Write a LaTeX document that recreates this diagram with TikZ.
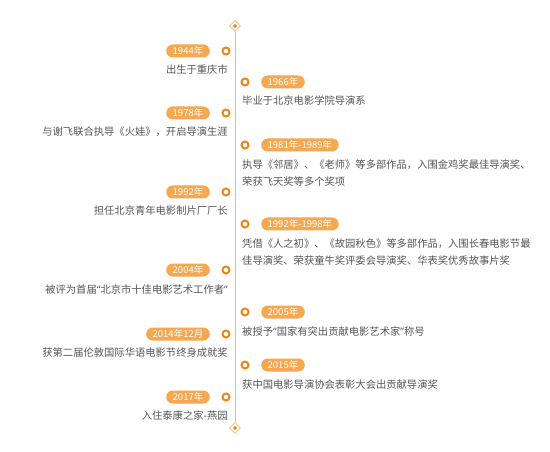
\documentclass[tikz,border=0pt]{standalone}
\usepackage{fontspec}
\setmainfont{Noto Sans CJK SC}
\newfontfamily\quotefont{Noto Sans}
\newcommand{\openq}{{\quotefont “}}
\newcommand{\closeq}{{\quotefont ”}}
\usepackage{tikz}
\usetikzlibrary{positioning,shapes.geometric}
\definecolor{TLorange}{HTML}{F08519}
\definecolor{TLpill}{HTML}{F5A84F}
\definecolor{TLline}{HTML}{F7B877}
\definecolor{TLtext}{HTML}{555555}

\begin{document}
\begin{tikzpicture}[
    x=1pt, y=-1pt,
    pill/.style={fill=TLpill, text=white, rounded corners=6.5pt, minimum height=13pt, inner xsep=6.5pt, inner ysep=0pt, font=\fontsize{9.5}{10}\selectfont},
    dot/.style={circle, draw=TLorange, line width=2pt, fill=white, minimum size=7pt, inner sep=0pt},
    desc/.style={text=TLtext, font=\fontsize{10.3}{16.5}\selectfont, inner sep=0pt, align=left},
    ends/.style={diamond, draw=TLline, fill=white, line width=0.8pt, minimum size=11pt, inner sep=0pt},
    core/.style={diamond, fill=TLorange, minimum size=4.5pt, inner sep=0pt}
]
    \useasboundingbox (0,0) rectangle (550,452);

    % axis
    \node[ends] (top) at (235,26) {};
    \node[ends] (bottom) at (235,428) {};
    \draw[TLline, line width=1pt] (top.south) -- (bottom.north);
    \node[core] at (top) {};
    \node[core] at (bottom) {};

    % left side
    \node[dot] (d1944) at (226,51) {};
    \node[pill, anchor=east] (p1944) at (210,51) {1944年};
    \node[desc, anchor=east] (t1944) at (228,70) {出生于重庆市};

    \node[dot] (d1978) at (226,113) {};
    \node[pill, anchor=east] (p1978) at (210,113) {1978年};
    \node[desc, anchor=east] (t1978) at (228,132) {与谢飞联合执导《火娃》，开启导演生涯};

    \node[dot] (d1992) at (226,192) {};
    \node[pill, anchor=east] (p1992) at (210,192) {1992年};
    \node[desc, anchor=east] (t1992) at (228,211) {担任北京青年电影制片厂厂长};

    \node[dot] (d2004) at (226,270) {};
    \node[pill, anchor=east] (p2004) at (210,270) {2004年};
    \node[desc, anchor=east] (t2004) at (228,290) {被评为首届\openq 北京市十佳电影艺术工作者\closeq};

    \node[dot] (d2014) at (226,334) {};
    \node[pill, anchor=east] (p2014) at (210,334) {2014年12月};
    \node[desc, anchor=east] (t2014) at (228,353) {获第二届伦敦国际华语电影节终身成就奖};

    \node[dot] (d2017) at (226,397) {};
    \node[pill, anchor=east] (p2017) at (210,397) {2017年};
    \node[desc, anchor=east] (t2017) at (228,416) {入住泰康之家-燕园};

    % right side
    \node[dot] (d1966) at (245,82) {};
    \node[pill, anchor=west] (p1966) at (261,82) {1966年};
    \node[desc, anchor=west] (t1966) at (242,101) {毕业于北京电影学院导演系};

    \node[dot] (d1981) at (245,145) {};
    \node[pill, anchor=west] (p1981) at (261,145) {1981年-1989年};
    \node[desc, anchor=west] (t1981) at (242,173) {执导《邻居》、《老师》等多部作品，入围金鸡奖最佳导演奖、\\荣获飞天奖等多个奖项};

    \node[dot] (d1992b) at (245,224) {};
    \node[pill, anchor=west] (p1992b) at (261,224) {1992年-1998年};
    \node[desc, anchor=west] (t1992b) at (242,252) {凭借《人之初》、《故园秋色》等多部作品，入围长春电影节最\\佳导演奖、荣获童牛奖评委会导演奖、华表奖优秀故事片奖};

    \node[dot] (d2005) at (245,312) {};
    \node[pill, anchor=west] (p2005) at (261,312) {2005年};
    \node[desc, anchor=west] (t2005) at (242,332) {被授予\openq 国家有突出贡献电影艺术家\closeq 称号};

    \node[dot] (d2015) at (245,365) {};
    \node[pill, anchor=west] (p2015) at (261,365) {2015年};
    \node[desc, anchor=west] (t2015) at (242,385) {获中国电影导演协会表彰大会出贡献导演奖};
\end{tikzpicture}
\end{document}
